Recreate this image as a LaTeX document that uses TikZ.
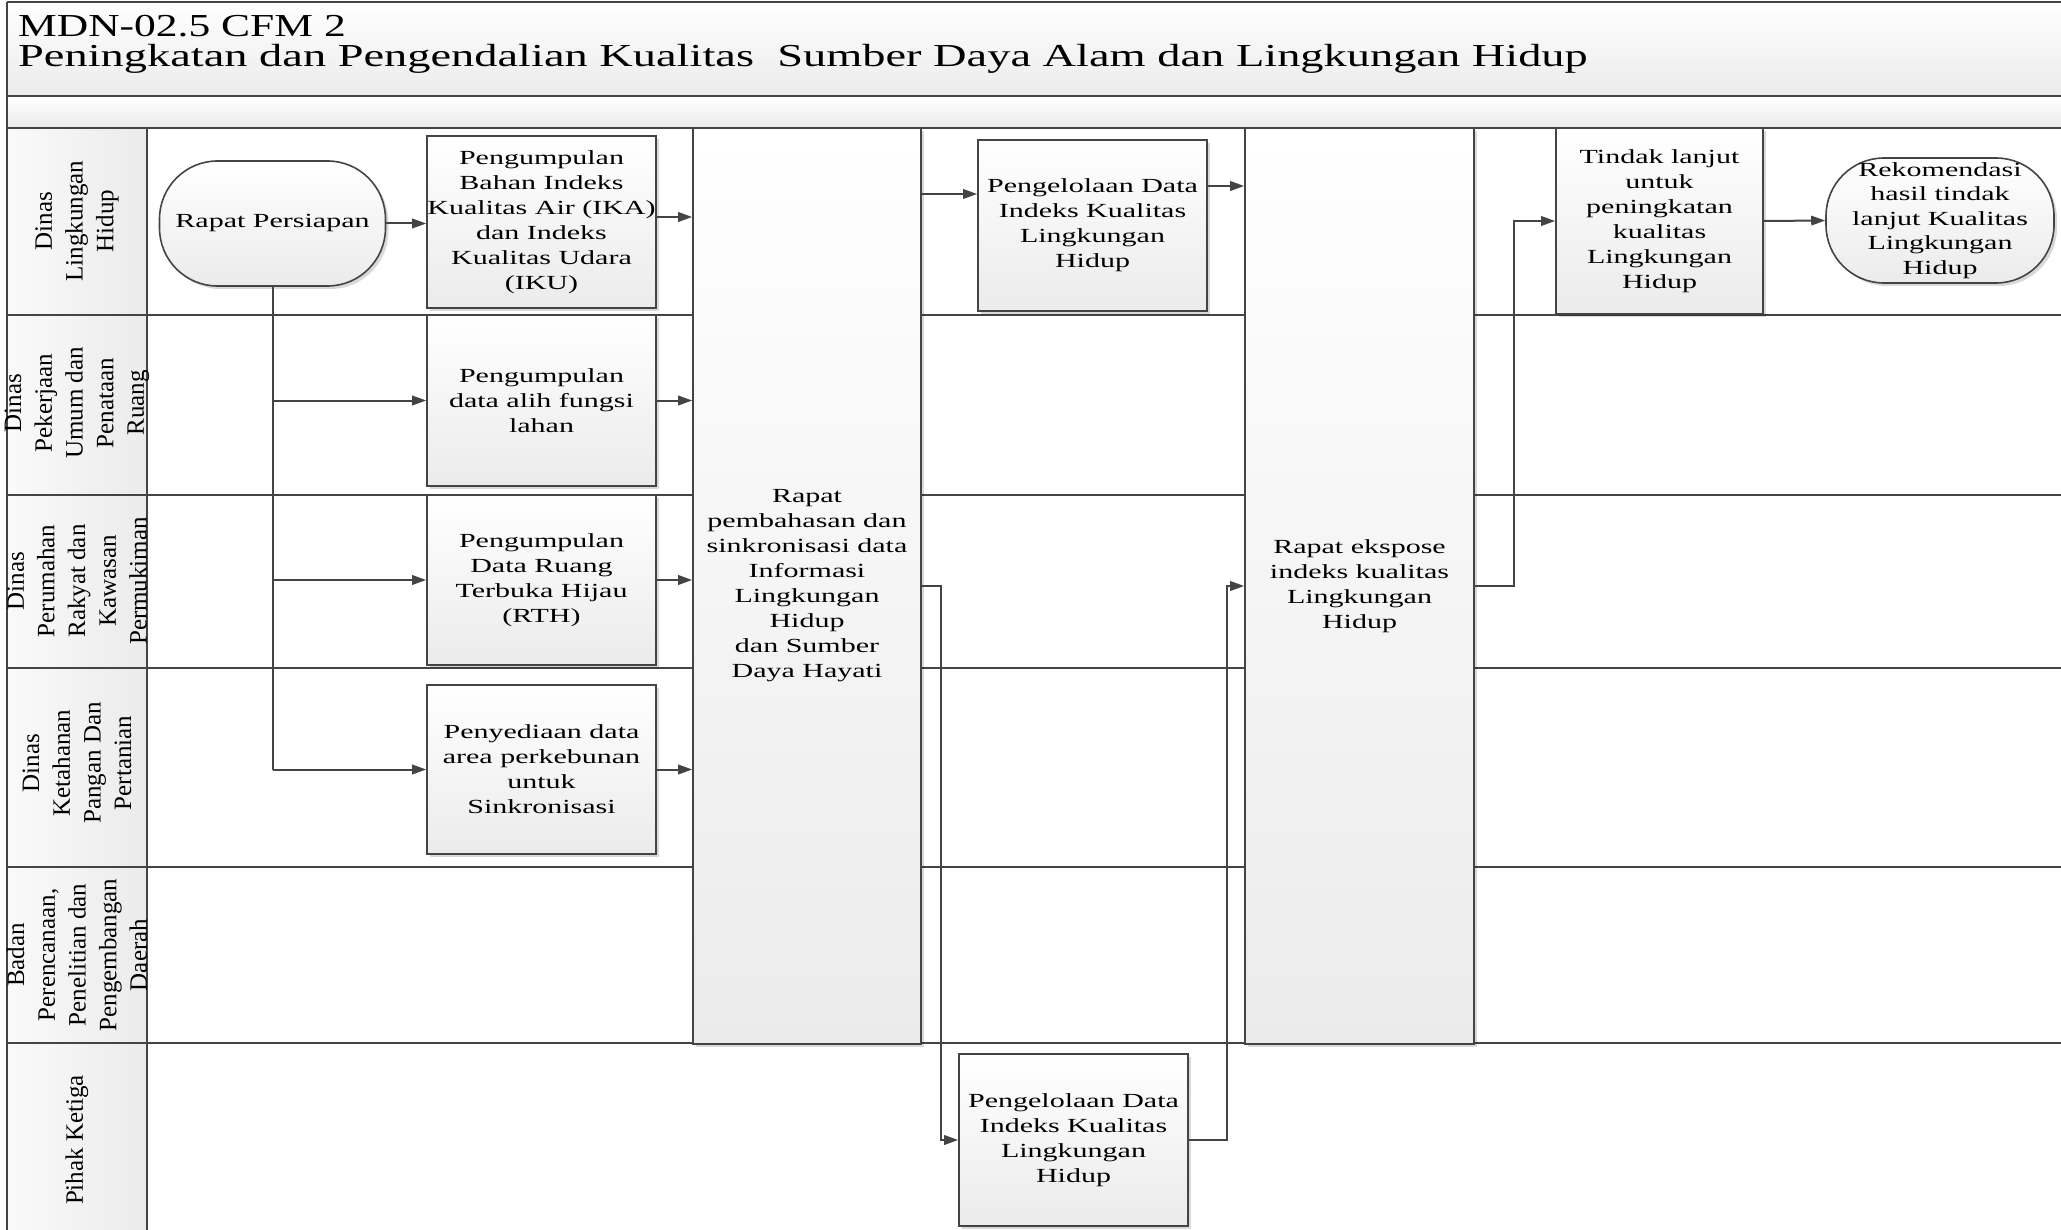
\documentclass[tikz,border=0pt]{standalone}
\usepackage{fontspec}
\setmainfont{Liberation Serif}
\newfontfamily\boxfont[FakeStretch=1.5]{Liberation Serif}
\newfontfamily\titlefont[FakeStretch=1.36]{Liberation Serif}
\newfontfamily\titlefontb[FakeStretch=1.45]{Liberation Serif}
\newfontfamily\lanefont{Liberation Serif}
\usetikzlibrary{arrows.meta,shadows,calc}
\definecolor{lc}{HTML}{444444}
\definecolor{bg}{HTML}{EBEBEB}
\begin{document}
\begin{tikzpicture}[x=1pt,y=-1pt,
  frameline/.style={draw=lc, line width=1.8pt},
  box/.style={draw=lc, line width=1.6pt, top color=white, bottom color=bg,
    inner sep=0pt, align=center, font=\boxfont\fontsize{20}{25}\selectfont,
    drop shadow={shadow xshift=3pt, shadow yshift=-3pt, opacity=0.15, fill=black}},
  stadium/.style={box, rounded corners=58pt, minimum width=226pt, minimum height=125pt},
  lanelbl/.style={rotate=90, align=center, inner sep=0pt,
    font=\lanefont\fontsize{25}{30.7}\selectfont},
  titletxt/.style={anchor=base west, inner sep=0pt,
    font=\titlefont\fontsize{32}{32}\selectfont},
  con/.style={draw=lc, line width=2pt},
  arr/.style={con, -{Triangle[length=14pt,width=9.5pt]}}
]
\useasboundingbox (0,0) rectangle (2061,1230);
\begin{scope}
\clip (0,0) rectangle (2061,1230);
% bands
\fill[top color=white, bottom color=bg] (7,2) rectangle (2075,96);
\fill[top color=white, bottom color=bg] (7,96) rectangle (2075,128);
\fill[left color=gray!4, right color=bg] (7,128) rectangle (147,1245);
% frame and lane lines
\draw[frameline] (7,2) -- (2075,2);
\draw[frameline] (7,96) -- (2075,96);
\draw[frameline] (7,128) -- (2075,128);
\foreach \yy in {315,495,668,867,1043}{\draw[frameline] (7,\yy) -- (2075,\yy);}
\draw[frameline] (7,2) -- (7,1245);
\draw[frameline] (147,128) -- (147,1245);

% title
\node[titletxt] (t1) at (18,37) {MDN-02.5 CFM 2};
\node[titletxt, font=\titlefontb\fontsize{32}{32}\selectfont] (t2) at (18,67) {Peningkatan dan Pengendalian Kualitas~~Sumber Daya Alam dan Lingkungan Hidup};

% lane labels
\node[lanelbl] (ln1) at (77,221) {Dinas\\Lingkungan\\Hidup};
\node[lanelbl] (ln2) at (77,403) {Dinas\\Pekerjaan\\Umum dan\\Penataan\\Ruang};
\node[lanelbl] (ln3) at (77,581) {Dinas\\Perumahan\\Rakyat dan\\Kawasan\\Permukiman};
\node[lanelbl] (ln4) at (77,763) {Dinas\\Ketahanan\\Pangan Dan\\Pertanian};
\node[lanelbl] (ln5) at (77,955) {Badan\\Perencanaan,\\Penelitian dan\\Pengembangan\\Daerah};
\node[lanelbl] (ln6) at (77,1140) {Pihak Ketiga};

% process nodes
\node[stadium] (rp) at (272.5,223.5) {Rapat Persiapan};
\node[box, minimum width=229pt, minimum height=172pt] (b1) at (541.5,222)
  {Pengumpulan\\Bahan Indeks\\Kualitas Air (IKA)\\dan Indeks\\Kualitas Udara\\(IKU)};
\node[box, minimum width=229pt, minimum height=171pt] (b2) at (541.5,400.5)
  {Pengumpulan\\data alih fungsi\\lahan};
\node[box, minimum width=229pt, minimum height=170pt] (b3) at (541.5,580)
  {Pengumpulan\\Data Ruang\\Terbuka Hijau\\(RTH)};
\node[box, minimum width=229pt, minimum height=169pt] (b4) at (541.5,769.5)
  {Penyediaan data\\area perkebunan\\untuk\\Sinkronisasi};
\node[box, minimum width=228pt, minimum height=916pt] (big1) at (807,586)
  {Rapat\\pembahasan dan\\sinkronisasi data\\Informasi\\Lingkungan\\Hidup\\dan Sumber\\Daya Hayati};
\node[box, minimum width=229pt, minimum height=171pt] (pd1) at (1092.5,225.5)
  {Pengelolaan Data\\Indeks Kualitas\\Lingkungan\\Hidup};
\node[box, minimum width=229pt, minimum height=916pt] (big2) at (1359.5,586)
  {Rapat ekspose\\indeks kualitas\\Lingkungan\\Hidup};
\node[box, minimum width=229pt, minimum height=172pt] (pd2) at (1073.5,1140)
  {Pengelolaan Data\\Indeks Kualitas\\Lingkungan\\Hidup};
\node[box, minimum width=207pt, minimum height=186pt] (tl) at (1659.5,221)
  {Tindak lanjut\\untuk\\peningkatan\\kualitas\\Lingkungan\\Hidup};
\node[stadium, minimum width=228pt, font=\boxfont\fontsize{20}{24.5}\selectfont] (rek) at (1940,220.5)
  {Rekomendasi\\hasil tindak\\lanjut Kualitas\\Lingkungan\\Hidup};

% connectors
\draw[arr] (rp.east) -- (rp.east -| b1.west);
\draw[con] (rp.south) -- (rp.south |- b4.west);
\draw[arr] (rp.south |- b2.west) -- (b2.west);
\draw[arr] (rp.south |- b3.west) -- (b3.west);
\draw[arr] (rp.south |- b4.west) -- (b4.west);
\draw[arr] ([yshift=5pt]b1.east) -- ([yshift=5pt]b1.east -| big1.west);
\draw[arr] (b2.east) -- (b2.east -| big1.west);
\draw[arr] (b3.east) -- (b3.east -| big1.west);
\draw[arr] (b4.east) -- (b4.east -| big1.west);
\coordinate (c1) at ([yshift=31.5pt]pd1.west);
\draw[arr] (c1 -| big1.east) -- (c1);
\coordinate (c2) at ([yshift=39.5pt]pd1.east);
\draw[arr] (c2) -- (c2 -| big2.west);
\draw[arr] (big1.east) -- ++(19.5,0) |- (pd2.west);
\draw[arr] (pd2.east) -- ++(38,0) |- (big2.west);
\draw[arr] (big2.east) -- ++(39,0) |- (tl.west);
\draw[arr] (tl.east) -- (rek.west);
\end{scope}
\end{tikzpicture}
\end{document}
